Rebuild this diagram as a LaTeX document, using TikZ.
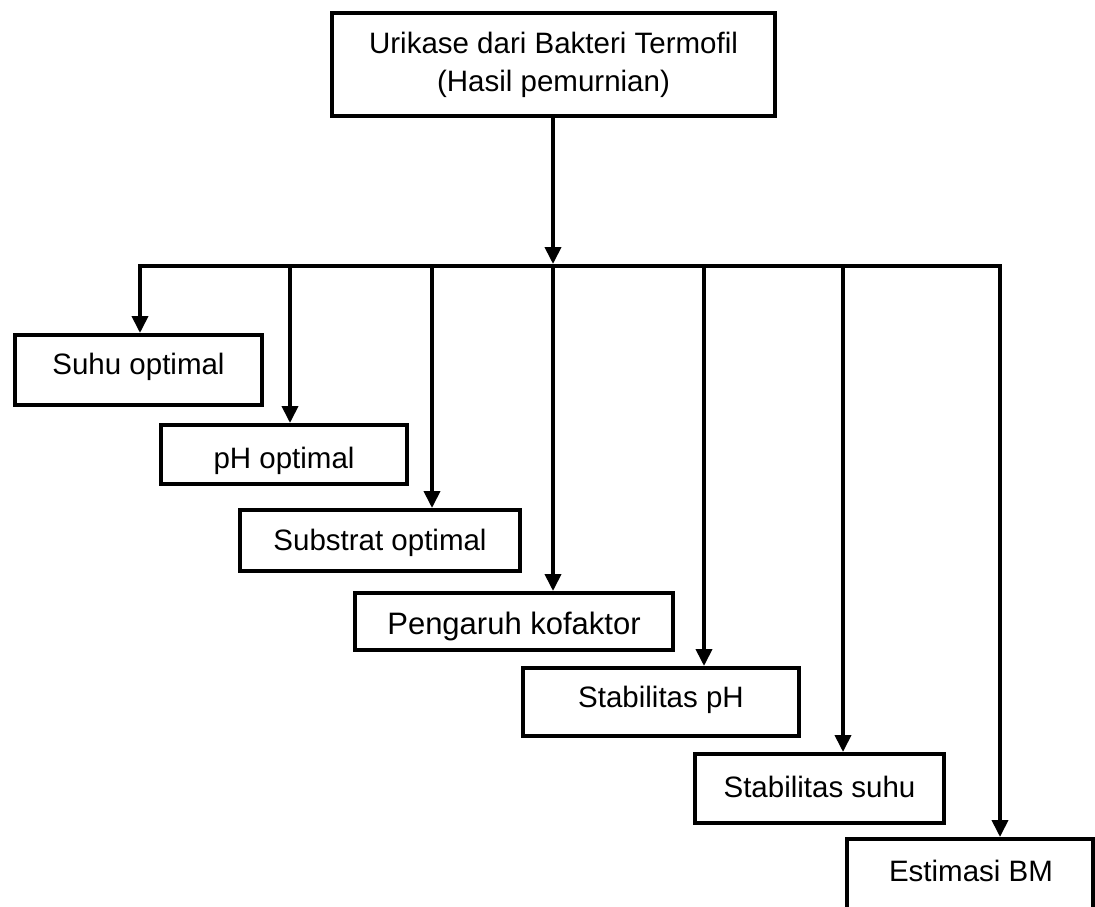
\documentclass[tikz,border=0pt]{standalone}
\usepackage{fontspec}
\setmainfont{Liberation Sans}
\usetikzlibrary{arrows.meta}
\begin{document}
\begin{tikzpicture}[x=1pt,y=-1pt,
  box/.style={draw, line width=4pt, inner sep=0pt, fill=white},
  lbl/.style={font=\fontsize{29.5}{34}\selectfont, anchor=base, inner sep=0pt},
  wire/.style={line width=3.8pt, line join=miter},
  feed/.style={wire, -{Triangle[length=17pt,width=16pt]}}]
\clip (0,0) rectangle (1095,906);
\fill[white] (0,0) rectangle (1095,906);

% boxes
\node[box, minimum width=443pt, minimum height=103pt] (top)  at (553.5,64.5) {};
\node[box, minimum width=247pt, minimum height=70pt]  (suhu) at (138.5,370) {};
\node[box, minimum width=246pt, minimum height=59pt]  (ph)   at (284,454.5) {};
\node[box, minimum width=280pt, minimum height=61pt]  (sub)  at (380,540.5) {};
\node[box, minimum width=318pt, minimum height=57pt]  (peng) at (514,621.5) {};
\node[box, minimum width=276pt, minimum height=68pt]  (stph) at (661,702) {};
\node[box, minimum width=249pt, minimum height=69pt]  (stsu) at (819.5,788.5) {};
\node[box, minimum width=246pt, minimum height=100pt] (est)  at (969.5,889) {};

% labels
\node[lbl] (t1) at (553.5,53) {Urikase dari Bakteri Termofil};
\node[lbl] (t2) at (553.5,91) {(Hasil pemurnian)};
\node[lbl] (l1) at (138.5,374) {Suhu optimal};
\node[lbl] (l2) at (284,468) {pH optimal};
\node[lbl] (l3) at (380,550) {Substrat optimal};
\node[lbl, font=\fontsize{31}{36}\selectfont] (l4) at (514,634) {Pengaruh kofaktor};
\node[lbl] (l5) at (661,707) {Stabilitas pH};
\node[lbl] (l6) at (819.5,797) {Stabilitas suhu};
\node[lbl] (l7) at (971,881) {Estimasi BM};

% distribution bus
\coordinate (busL) at (140,266);
\coordinate (busR) at (1000,266);
\coordinate (b2) at (290,266);
\coordinate (b3) at (432,266);
\coordinate (b4) at (553,266);
\coordinate (b5) at (704,266);
\coordinate (b6) at (843,266);
\coordinate (hub) at (553,264);

\draw[feed] (top.south -| hub) -- (hub);
\draw[feed] (busR) -- (busL) -- (suhu.north -| busL);
\draw[feed] (busL) -- (busR) -- (est.north -| busR);
\draw[feed] (b2) -- (ph.north -| b2);
\draw[feed] (b3) -- (sub.north -| b3);
\draw[feed] (b4) -- (peng.north -| b4);
\draw[feed] (b5) -- (stph.north -| b5);
\draw[feed] (b6) -- (stsu.north -| b6);
\end{tikzpicture}
\end{document}
